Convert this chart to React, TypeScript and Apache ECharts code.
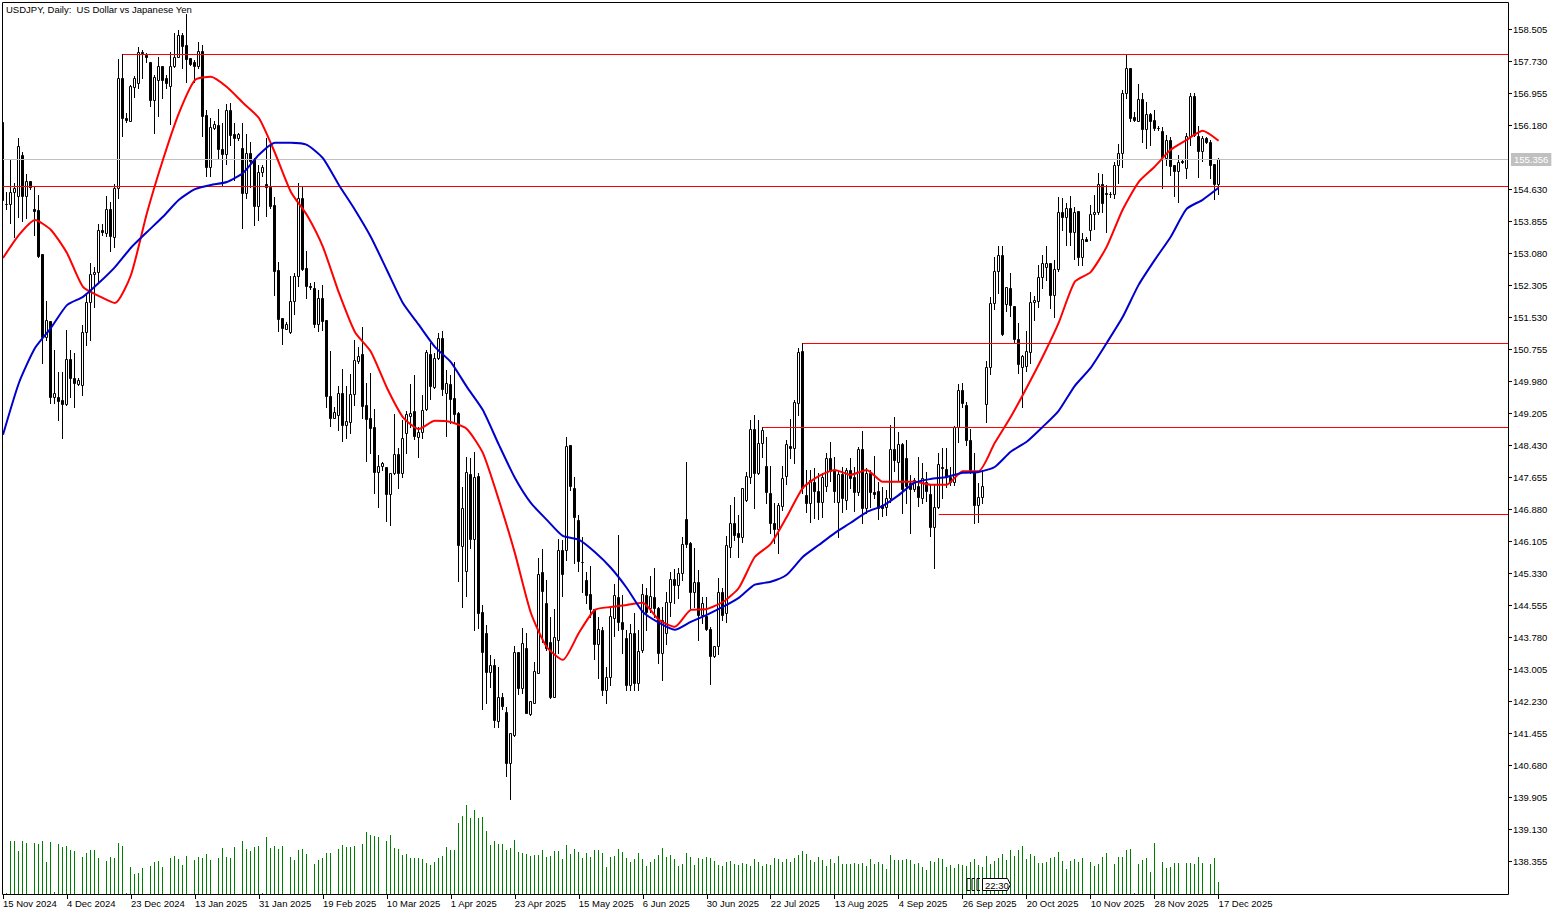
import { useEffect, useRef } from 'react'
import * as echarts from 'echarts'

const title = 'USDJPY, Daily:  US Dollar vs Japanese Yen'
const fontFamily = '"Liberation Sans", sans-serif'

// one label every 16 bars
const dateLabels = [
  '15 Nov 2024', '4 Dec 2024', '23 Dec 2024', '13 Jan 2025', '31 Jan 2025', '19 Feb 2025', '10 Mar 2025',
  '1 Apr 2025', '23 Apr 2025', '15 May 2025', '6 Jun 2025', '30 Jun 2025', '22 Jul 2025', '13 Aug 2025',
  '4 Sep 2025', '26 Sep 2025', '20 Oct 2025', '10 Nov 2025', '28 Nov 2025', '17 Dec 2025',
]
const dateStep = 16

const priceTicks = [
  158.505, 157.73, 156.955, 156.18, 154.63, 153.855, 153.08, 152.305, 151.53, 150.755, 149.98, 149.205, 148.43,
  147.655, 146.88, 146.105, 145.33, 144.555, 143.78, 143.005, 142.23, 141.455, 140.68, 139.905, 139.13, 138.355,
]

const lastPrice = 155.356

const opens = [
  156.27, 154.28, 154.28, 154.57, 154.47, 155.47, 154.47, 154.84, 154.16, 154.14,
  153.07, 151.06, 151.45, 149.61, 149.61, 149.54, 149.44, 150.53, 150.07, 149.92,
  149.90, 151.18, 151.91, 152.59, 152.63, 153.65, 153.58, 154.16, 153.48, 154.67,
  157.33, 156.36, 156.29, 157.11, 157.21, 157.96, 157.89, 157.72, 156.80, 157.28,
  157.62, 157.33, 157.14, 157.62, 157.84, 158.37, 158.13, 157.82, 157.72, 157.62,
  157.99, 156.43, 155.18, 156.12, 156.19, 155.61, 155.49, 156.56, 155.98, 155.88,
  155.64, 154.55, 155.52, 155.37, 154.23, 155.05, 154.77, 154.69, 154.26, 152.68,
  151.52, 151.25, 151.18, 151.93, 152.54, 154.43, 152.73, 152.29, 152.25, 151.37,
  152.00, 151.47, 149.63, 149.10, 149.17, 149.71, 148.93, 149.00, 149.68, 150.48,
  150.65, 149.41, 149.10, 148.88, 147.79, 147.94, 147.91, 147.26, 147.77, 148.23,
  147.77, 148.74, 149.15, 149.27, 148.64, 148.76, 149.32, 150.65, 149.85, 150.55,
  151.04, 149.71, 149.92, 149.58, 149.22, 146.00, 145.39, 147.74, 146.17, 147.69,
  144.40, 143.89, 142.95, 143.12, 141.76, 142.34, 141.98, 140.75, 141.42, 143.43,
  142.56, 143.53, 141.93, 142.20, 142.93, 145.37, 144.62, 143.67, 142.34, 143.72,
  145.90, 145.90, 148.45, 147.40, 146.63, 145.61, 145.18, 144.84, 144.47, 143.63,
  143.97, 142.51, 142.83, 144.26, 144.76, 144.16, 143.77, 142.63, 143.89, 142.68,
  143.48, 144.81, 144.50, 144.76, 144.50, 143.41, 143.89, 144.64, 145.20, 145.06,
  145.35, 146.65, 146.07, 144.89, 145.13, 144.33, 144.30, 143.99, 143.34, 143.58,
  144.89, 144.38, 145.98, 146.56, 146.31, 146.22, 147.11, 147.67, 148.83, 147.77,
  148.49, 147.94, 147.28, 146.56, 146.41, 146.97, 147.69, 148.42, 148.37, 149.46,
  150.72, 147.23, 147.04, 147.55, 147.33, 147.06, 147.45, 148.13, 147.84, 147.06,
  147.74, 147.11, 147.84, 147.67, 147.31, 148.35, 146.92, 147.77, 147.31, 147.33,
  146.99, 146.94, 147.16, 148.35, 148.03, 148.47, 148.13, 147.53, 147.38, 147.45,
  147.16, 147.55, 147.26, 146.46, 146.94, 147.91, 147.86, 147.67, 147.55, 148.88,
  149.78, 149.41, 148.57, 147.79, 146.99, 147.19, 149.44, 150.33, 151.88, 152.66,
  153.05, 151.86, 152.25, 151.81, 151.01, 150.33, 150.36, 150.70, 151.91, 151.93,
  152.51, 152.75, 152.85, 152.08, 152.71, 154.09, 153.97, 154.18, 153.60, 154.11,
  153.00, 153.43, 153.65, 154.04, 154.09, 154.77, 154.55, 154.52, 154.52, 155.23,
  155.52, 156.97, 157.57, 156.39, 156.29, 156.82, 156.10, 156.46, 156.31, 156.12,
  156.05, 155.39, 155.83, 155.23, 155.08, 155.32, 155.15, 155.93, 156.90, 155.93,
  155.56, 155.88, 155.78, 155.25, 154.77,
]

const highs = [
  156.29, 154.57, 155.35, 154.79, 155.88, 155.54, 155.01, 154.84, 154.69, 154.50,
  153.07, 151.93, 151.45, 150.75, 150.21, 150.21, 151.23, 150.75, 150.67, 150.07,
  151.35, 152.13, 152.85, 152.75, 153.80, 153.80, 154.47, 154.33, 154.77, 157.79,
  157.91, 156.48, 157.16, 157.38, 158.08, 158.01, 157.94, 157.72, 157.40, 157.84,
  157.62, 157.40, 157.96, 158.42, 158.49, 158.42, 158.88, 157.82, 157.77, 158.20,
  158.13, 156.56, 156.36, 156.29, 156.58, 156.24, 156.70, 156.73, 156.24, 156.00,
  156.24, 155.98, 155.78, 155.39, 155.23, 155.23, 155.88, 155.71, 154.45, 152.88,
  151.52, 151.42, 152.54, 152.61, 154.79, 154.69, 153.14, 152.37, 152.39, 152.20,
  152.32, 151.47, 150.72, 149.37, 149.87, 150.29, 149.87, 150.16, 150.99, 150.82,
  151.30, 149.95, 150.19, 149.32, 148.20, 148.03, 147.91, 147.77, 149.20, 148.37,
  149.05, 149.27, 149.92, 150.14, 148.88, 149.66, 150.75, 150.92, 150.67, 151.16,
  151.21, 150.26, 150.14, 150.46, 149.24, 147.43, 148.15, 148.13, 148.27, 147.77,
  144.57, 144.09, 143.36, 143.26, 143.07, 142.44, 142.10, 141.47, 143.58, 143.43,
  144.01, 143.89, 142.25, 143.19, 145.71, 145.93, 145.18, 144.28, 144.47, 146.17,
  146.15, 148.64, 148.45, 147.67, 146.75, 146.22, 145.37, 145.52, 144.47, 144.28,
  144.04, 143.07, 144.52, 145.08, 146.27, 144.81, 143.97, 144.11, 144.38, 143.97,
  145.08, 144.98, 145.27, 145.47, 144.52, 144.52, 144.89, 145.37, 145.44, 145.47,
  146.22, 148.03, 146.10, 145.95, 145.42, 144.76, 144.76, 144.04, 143.58, 145.22,
  144.98, 146.24, 146.99, 147.19, 146.75, 147.40, 147.79, 149.05, 149.17, 149.05,
  148.88, 148.64, 147.94, 147.04, 147.04, 147.94, 148.57, 149.07, 149.54, 150.79,
  150.91, 147.84, 147.84, 147.89, 147.77, 147.77, 148.25, 148.52, 148.15, 147.84,
  147.91, 147.89, 148.13, 147.91, 148.40, 148.78, 147.89, 147.84, 148.18, 147.55,
  147.43, 147.36, 148.93, 149.12, 148.76, 148.49, 148.57, 147.72, 147.65, 148.15,
  148.01, 147.79, 147.48, 147.48, 148.25, 148.37, 148.37, 147.91, 148.90, 149.92,
  149.95, 149.49, 148.83, 148.25, 147.53, 147.84, 150.48, 152.03, 152.99, 153.26,
  153.26, 152.27, 152.61, 151.81, 151.40, 150.62, 151.21, 152.15, 152.05, 152.80,
  153.05, 153.26, 152.85, 152.92, 154.45, 154.43, 154.30, 154.47, 154.21, 154.11,
  153.58, 153.48, 154.26, 154.50, 155.03, 155.01, 154.74, 154.57, 155.30, 155.73,
  157.04, 157.89, 157.57, 156.51, 157.19, 156.97, 156.75, 156.48, 156.56, 156.17,
  156.14, 155.95, 155.90, 155.23, 155.47, 155.37, 156.00, 156.97, 156.97, 156.17,
  155.93, 155.90, 155.83, 155.25, 155.39,
]

const lows = [
  154.26, 154.16, 153.82, 153.48, 153.97, 153.87, 153.94, 154.64, 153.53, 153.00,
  150.43, 150.99, 149.46, 149.46, 149.05, 148.61, 149.41, 149.61, 149.37, 149.90,
  149.66, 150.87, 150.99, 151.79, 152.42, 153.53, 153.51, 153.14, 153.24, 154.43,
  155.93, 156.27, 156.29, 156.87, 157.09, 157.33, 157.72, 156.65, 156.00, 156.41,
  156.85, 157.09, 156.22, 157.60, 157.84, 157.57, 157.23, 157.65, 157.23, 157.57,
  155.93, 154.96, 154.96, 156.10, 155.39, 154.74, 155.25, 155.71, 154.86, 155.83,
  153.70, 154.43, 154.69, 153.77, 153.89, 154.96, 153.99, 154.18, 152.08, 151.21,
  150.89, 151.25, 151.16, 151.62, 152.29, 152.68, 152.00, 152.22, 151.30, 151.21,
  151.23, 149.37, 148.90, 149.10, 148.81, 148.54, 148.61, 148.74, 149.41, 150.43,
  149.10, 148.06, 148.25, 147.28, 146.94, 147.84, 146.61, 146.51, 147.74, 147.40,
  147.67, 148.25, 148.88, 148.59, 148.15, 148.61, 149.29, 149.56, 149.83, 150.53,
  149.66, 148.66, 148.98, 148.98, 145.15, 144.52, 144.79, 145.95, 143.97, 144.01,
  142.05, 142.20, 142.59, 141.62, 141.62, 142.05, 140.43, 139.87, 141.40, 142.42,
  142.44, 141.96, 141.91, 142.20, 142.93, 143.67, 143.48, 142.32, 142.34, 143.41,
  144.79, 145.66, 147.36, 145.59, 145.39, 144.89, 144.62, 144.28, 143.26, 142.80,
  142.39, 142.20, 142.63, 143.82, 143.97, 143.41, 142.51, 142.51, 142.51, 142.51,
  143.43, 143.97, 144.40, 144.28, 143.17, 142.75, 143.63, 144.30, 144.62, 144.74,
  145.18, 145.98, 144.50, 144.52, 143.72, 144.14, 143.97, 142.66, 143.31, 143.39,
  144.21, 144.16, 145.73, 146.15, 145.73, 146.10, 147.09, 147.53, 146.92, 147.74,
  148.15, 147.04, 146.31, 146.07, 145.83, 146.87, 147.50, 148.13, 148.01, 149.17,
  147.28, 146.82, 146.58, 146.68, 146.65, 146.70, 147.33, 147.57, 147.06, 146.22,
  146.82, 146.89, 147.40, 146.85, 147.23, 146.56, 146.80, 146.94, 147.16, 146.65,
  146.73, 146.75, 147.06, 147.81, 147.60, 146.80, 147.04, 146.31, 147.33, 146.97,
  147.04, 147.09, 146.24, 145.47, 146.92, 147.16, 147.43, 147.48, 147.48, 148.52,
  149.37, 148.45, 147.77, 146.56, 146.58, 147.04, 149.00, 150.16, 151.74, 152.13,
  151.11, 151.69, 151.57, 150.91, 150.19, 149.37, 150.24, 150.43, 151.47, 151.79,
  152.25, 152.44, 151.76, 151.54, 152.66, 153.65, 153.29, 153.29, 152.95, 152.80,
  152.80, 153.38, 153.41, 153.67, 154.04, 154.09, 153.60, 154.45, 154.43, 154.79,
  155.18, 156.85, 156.29, 156.29, 156.29, 155.78, 155.64, 155.71, 156.07, 156.07,
  154.67, 155.23, 154.98, 154.47, 154.33, 155.27, 154.91, 155.71, 155.93, 154.93,
  155.32, 155.76, 154.91, 154.40, 154.52,
]

const closes = [
  154.38, 154.29, 154.57, 154.67, 155.68, 154.47, 154.84, 154.69, 154.11, 153.02,
  151.06, 151.47, 149.61, 149.71, 149.51, 149.44, 150.53, 150.07, 149.95, 150.02,
  151.18, 151.91, 152.59, 152.63, 153.65, 153.60, 154.16, 153.51, 154.67, 157.33,
  156.36, 156.31, 157.14, 157.33, 157.96, 157.94, 157.84, 156.80, 157.36, 157.62,
  157.28, 157.21, 157.62, 157.84, 158.37, 158.11, 157.79, 157.67, 157.62, 157.99,
  156.41, 155.18, 156.14, 156.22, 155.61, 155.49, 156.56, 155.95, 155.88, 155.98,
  154.55, 155.52, 155.32, 154.23, 155.05, 155.18, 154.69, 154.23, 152.66, 151.50,
  151.28, 151.37, 151.93, 152.54, 154.43, 152.71, 152.29, 152.27, 151.37, 152.00,
  151.45, 149.63, 149.10, 149.24, 149.71, 148.93, 149.03, 149.68, 150.50, 150.60,
  149.39, 149.07, 148.86, 147.79, 147.94, 148.01, 147.26, 147.77, 148.23, 147.77,
  148.61, 149.20, 149.22, 148.66, 148.76, 149.29, 150.70, 149.87, 150.55, 151.04,
  149.80, 149.95, 149.56, 149.20, 146.02, 146.92, 147.79, 146.17, 147.67, 144.38,
  143.43, 142.95, 143.12, 141.79, 142.34, 142.13, 140.75, 141.47, 143.43, 142.56,
  143.65, 141.96, 142.25, 142.97, 145.32, 144.91, 143.53, 142.34, 143.80, 145.90,
  145.32, 148.42, 147.45, 146.70, 145.64, 145.61, 144.81, 144.47, 143.63, 143.99,
  142.51, 142.83, 144.30, 144.81, 144.16, 143.99, 142.63, 143.89, 142.68, 143.46,
  144.84, 144.40, 144.79, 144.50, 143.41, 144.21, 144.64, 145.20, 145.06, 145.35,
  146.05, 146.05, 144.89, 145.13, 144.33, 144.62, 143.99, 143.34, 143.58, 144.89,
  144.33, 146.02, 146.56, 146.27, 146.22, 147.40, 147.69, 148.83, 147.77, 148.49,
  148.81, 147.31, 146.56, 146.41, 146.99, 147.65, 148.47, 148.37, 149.49, 150.70,
  147.40, 147.04, 147.60, 147.33, 147.06, 147.67, 148.13, 147.81, 147.33, 147.74,
  147.16, 147.84, 147.65, 147.31, 148.35, 146.92, 147.77, 147.31, 147.26, 146.92,
  146.92, 147.16, 148.35, 148.08, 148.47, 147.38, 147.45, 147.38, 147.60, 147.19,
  147.65, 147.33, 146.46, 146.94, 147.99, 147.89, 147.67, 147.55, 148.88, 149.78,
  149.46, 148.57, 147.84, 146.99, 147.19, 147.45, 150.33, 151.88, 152.66, 153.05,
  151.13, 152.27, 151.84, 151.01, 150.41, 150.60, 150.72, 151.91, 151.96, 152.51,
  152.85, 152.85, 152.08, 152.71, 154.09, 153.97, 154.18, 153.60, 154.09, 153.00,
  153.43, 153.38, 154.04, 154.09, 154.77, 154.30, 154.52, 154.53, 155.23, 155.52,
  156.97, 157.57, 156.36, 156.31, 156.82, 156.10, 156.46, 156.29, 156.12, 156.13,
  155.42, 155.83, 155.20, 155.08, 155.30, 155.30, 155.93, 156.90, 155.95, 155.56,
  155.88, 155.78, 155.23, 154.77, 155.36,
]

// tick volume, no visible scale on the chart
const volumes = [
  0, 1, 53, 53, 43, 53, 51, 0, 51, 50, 53, 32, 52, 2, 50, 47, 48, 44, 43, 0,
  37, 41, 44, 44, 36, 0, 33, 37, 36, 51, 48, 1, 27, 20, 21, 26, 0, 28, 32, 33,
  27, 0, 36, 38, 35, 29, 38, 0, 34, 37, 36, 40, 34, 0, 36, 46, 37, 36, 47, 0,
  53, 45, 43, 47, 48, 1, 57, 46, 48, 45, 48, 0, 37, 34, 44, 45, 40, 0, 30, 34,
  36, 41, 41, 0, 45, 49, 47, 47, 48, 0, 50, 62, 59, 58, 57, 0, 53, 59, 46, 45,
  39, 40, 36, 36, 36, 35, 31, 29, 32, 36, 38, 47, 44, 44, 71, 78, 89, 76, 84, 76,
  77, 63, 49, 53, 50, 50, 44, 46, 54, 42, 41, 40, 38, 39, 39, 44, 37, 38, 43, 43,
  35, 49, 40, 45, 42, 36, 41, 37, 44, 44, 41, 27, 37, 38, 45, 42, 36, 32, 35, 41,
  35, 28, 32, 35, 39, 46, 37, 39, 35, 28, 30, 41, 37, 29, 36, 35, 37, 36, 33, 29,
  28, 32, 33, 30, 29, 31, 30, 28, 35, 32, 28, 30, 29, 36, 35, 32, 35, 32, 36, 39,
  43, 40, 34, 32, 37, 34, 28, 35, 31, 38, 30, 30, 30, 31, 30, 31, 28, 35, 30, 32,
  30, 25, 39, 34, 34, 34, 35, 34, 30, 31, 27, 24, 33, 32, 36, 35, 27, 29, 26, 30,
  29, 28, 32, 35, 29, 27, 38, 30, 33, 36, 40, 34, 44, 38, 44, 48, 35, 40, 38, 31,
  31, 32, 36, 37, 42, 33, 25, 33, 35, 32, 36, 0, 32, 28, 30, 37, 41, 0, 30, 37,
  37, 44, 45, 1, 30, 34, 36, 22, 51, 0, 32, 26, 27, 31, 31, 0, 31, 31, 30, 37,
  31, 0, 30, 36, 12,
]

// moving averages, read every 4 bars
const maStep = 4
const redMa = [
  152.97, 153.53, 153.89, 153.65, 153.09, 152.27, 152.05, 151.88, 152.56, 154.06,
  155.35, 156.48, 157.28, 157.36, 157.11, 156.73, 156.36, 155.52, 154.57, 154.01,
  153.24, 152.13, 151.18, 150.70, 149.83, 149.12, 148.83, 149.03, 149.00, 148.83,
  148.25, 147.11, 145.83, 144.38, 143.55, 143.24, 143.89, 144.45, 144.52, 144.57,
  144.62, 144.21, 144.04, 144.45, 144.47, 144.64, 144.98, 145.73, 146.05, 146.70,
  147.40, 147.69, 147.84, 147.72, 147.84, 147.55, 147.55, 147.55, 147.48, 147.48,
  147.81, 147.81, 148.49, 149.12, 149.83, 150.58, 151.40, 152.39, 152.63, 153.24,
  154.14, 154.81, 155.18, 155.59, 155.83, 156.05, 155.81,
]
const blueMa = [
  148.69, 149.95, 150.79, 151.28, 151.83, 152.03, 152.37, 152.75, 153.22, 153.60,
  153.97, 154.38, 154.64, 154.74, 154.81, 155.03, 155.47, 155.76, 155.76, 155.71,
  155.39, 154.74, 154.14, 153.48, 152.68, 151.88, 151.35, 150.82, 150.45, 149.85,
  149.29, 148.45, 147.65, 147.04, 146.63, 146.24, 146.15, 145.85, 145.47, 144.98,
  144.40, 144.14, 143.97, 144.16, 144.33, 144.52, 144.74, 145.06, 145.13, 145.30,
  145.73, 146.02, 146.31, 146.56, 146.82, 146.97, 147.23, 147.53, 147.62, 147.67,
  147.77, 147.79, 147.91, 148.28, 148.52, 148.88, 149.27, 149.87, 150.31, 150.91,
  151.54, 152.32, 152.92, 153.48, 154.16, 154.38, 154.67,
]

// support / resistance lines: starting bar and price
const levelBars = [30, 0, 200, 190, 234]
const levelPrices = [157.905, 154.7, 150.91, 148.88, 146.77]

// bar numbers as a value axis, 4px per bar
const X_MIN = -0.625
const X_MAX = 376.375
const dateTicks = dateLabels.map((_, i) => i * dateStep)

// candles and volume sit on whole pixels like the terminal draws them
const barPixel = (x: number) => Math.ceil(x) - 1
const snapY = (y: number) => Math.round(y) + 0.5

const renderCandle = (_: unknown, api: any) => {
  const i = api.value(0)
  const open = api.value(1)
  const close = api.value(2)
  const p = barPixel(api.coord([i, open])[0])
  const yOpen = snapY(api.coord([i, open])[1])
  const yClose = snapY(api.coord([i, close])[1])
  const yLow = snapY(api.coord([i, api.value(3)])[1])
  const yHigh = snapY(api.coord([i, api.value(4)])[1])
  const top = Math.min(yOpen, yClose)
  const bottom = Math.max(yOpen, yClose)
  return {
    type: 'group',
    children: [
      {
        type: 'line',
        shape: { x1: p + 0.5, y1: yHigh - 0.5, x2: p + 0.5, y2: yLow + 0.5 },
        style: { stroke: '#000', lineWidth: 1 },
      },
      {
        type: 'rect',
        shape: { x: p - 0.5, y: top, width: 2, height: bottom - top },
        style: { fill: close >= open ? '#fff' : '#000', stroke: '#000', lineWidth: 1 },
      },
    ],
  }
}

const renderVolume = (_: unknown, api: any) => {
  const i = api.value(0)
  const v = api.value(1)
  if (!v) return null
  const base = api.coord([i, 0])
  const top = api.coord([i, v])
  return {
    type: 'rect',
    shape: { x: barPixel(base[0]), y: top[1], width: 1, height: base[1] - top[1] },
    style: { fill: '#008000' },
  }
}

const App = () => {
  const chartRef = useRef<HTMLDivElement>(null)

  useEffect(() => {
    if (!chartRef.current) return
    const chart = echarts.init(chartRef.current, undefined, { renderer: 'svg' })

    const textStyle = { fontFamily, fontSize: 9.5, color: '#000' }

    const option = {
      animation: false,
      backgroundColor: '#fff',
      title: {
        text: title,
        left: 6,
        top: 4,
        padding: 0,
        textStyle: { fontFamily, fontSize: 9.5, fontWeight: 'normal', color: '#000' },
      },
      grid: { left: 0, right: 53, top: 2, height: 892 },
      xAxis: {
        type: 'value',
        min: X_MIN,
        max: X_MAX,
        axisLine: { show: false, onZero: false },
        axisTick: { show: true, length: 5, customValues: dateTicks, lineStyle: { color: '#000' } },
        axisLabel: {
          ...textStyle,
          customValues: dateTicks,
          align: 'left',
          margin: 4,
          hideOverlap: false,
          formatter: (v: number) => dateLabels[Math.round(v / dateStep)] ?? '',
        },
        splitLine: { show: false },
      },
      yAxis: [
        {
          type: 'value',
          position: 'right',
          min: 137.57,
          max: 159.17,
          axisLine: { show: false, onZero: false },
          axisTick: { show: true, length: 4, customValues: priceTicks, lineStyle: { color: '#000' } },
          axisLabel: { ...textStyle, customValues: priceTicks, margin: 5, formatter: (v: number) => v.toFixed(3) },
          splitLine: { show: false },
        },
        { type: 'value', min: 0, max: 892, show: false, axisLine: { onZero: false }, splitLine: { show: false } },
      ],
      series: [
        {
          name: 'Volume',
          type: 'custom',
          yAxisIndex: 1,
          data: volumes.map((v, i) => [i, v]),
          encode: { x: 0, y: 1 },
          renderItem: renderVolume,
          silent: true,
        },
        {
          name: 'USDJPY',
          type: 'custom',
          data: opens.map((o, i) => [i, o, closes[i], lows[i], highs[i]]),
          encode: { x: 0, y: [1, 2, 3, 4] },
          renderItem: renderCandle,
          silent: true,
          z: 3,
        },
        {
          name: 'Levels',
          type: 'line',
          data: [],
          silent: true,
          z: 4,
          markLine: {
            silent: true,
            symbol: 'none',
            animation: false,
            label: { show: false },
            lineStyle: { color: '#ff0000', width: 1, type: 'solid' },
            data: [
              ...levelPrices.map((p, i) => [
                { xAxis: levelBars[i], yAxis: p },
                { xAxis: X_MAX, yAxis: p },
              ]),
              [
                {
                  xAxis: 0,
                  yAxis: lastPrice,
                  lineStyle: { color: '#c0c0c0', width: 1, type: 'solid' },
                  label: {
                    show: true,
                    position: 'end',
                    formatter: lastPrice.toFixed(3),
                    fontFamily,
                    fontSize: 9.5,
                    color: '#fff',
                    backgroundColor: '#c0c0c0',
                    padding: [2, 3, 1, 3],
                    distance: 3,
                  },
                },
                { xAxis: X_MAX, yAxis: lastPrice },
              ],
            ],
          },
        },
        {
          name: 'MA red',
          type: 'line',
          data: redMa.map((v, i) => [i * maStep, v]),
          showSymbol: false,
          smooth: 0.2,
          lineStyle: { color: '#ff0000', width: 2 },
          silent: true,
          z: 5,
        },
        {
          name: 'MA blue',
          type: 'line',
          data: blueMa.map((v, i) => [i * maStep, v]),
          showSymbol: false,
          smooth: 0.2,
          lineStyle: { color: '#0000cd', width: 2 },
          silent: true,
          z: 5,
        },
      ],
      graphic: [
        // the first bar is cut by the chart frame
        { type: 'rect', shape: { x: 0, y: 0, width: 2.5, height: 894 }, style: { fill: '#fff' }, silent: true, z: 9 },
        // chart frame
        { type: 'rect', shape: { x: 2.5, y: 2.5, width: 1506, height: 892 }, style: { fill: 'none', stroke: '#000', lineWidth: 1 }, silent: true, z: 10 },
        // period separator stubs and time tag
        ...[967, 972, 977].map((x) => ({
          type: 'polyline',
          shape: { points: [[x + 3, 878.5], [x, 878.5], [x, 890.5], [x + 3, 890.5]] },
          style: { fill: 'none', stroke: '#000', lineWidth: 1 },
          silent: true,
          z: 11,
        })),
        {
          type: 'polygon',
          shape: { points: [[982.5, 878.5], [1007.5, 878.5], [1010.5, 884.5], [1007.5, 890.5], [982.5, 890.5]] },
          style: { fill: '#fff', stroke: '#000', lineWidth: 1 },
          silent: true,
          z: 11,
        },
        {
          type: 'text',
          x: 985,
          y: 880,
          style: { text: '22:30', fontFamily, fontSize: 9.5, fill: '#000' },
          silent: true,
          z: 12,
        },
      ],
    }

    chart.setOption(option as Record<string, unknown>)
    return () => chart.dispose()
  }, [])

  return <div ref={chartRef} style={{ position: 'fixed', left: 0, top: 0, width: 1561, height: 915 }} />
}

export default App
